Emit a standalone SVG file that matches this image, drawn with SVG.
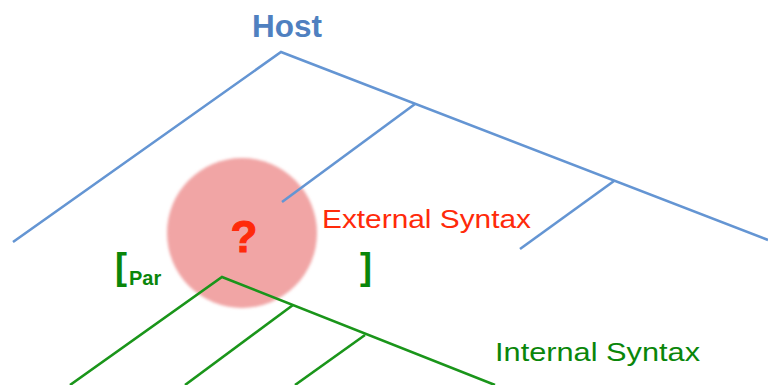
<svg xmlns="http://www.w3.org/2000/svg" width="768" height="385" viewBox="0 0 768 385">
  <defs>
    <filter id="soft" x="-10%" y="-10%" width="120%" height="120%">
      <feGaussianBlur stdDeviation="1.5"/>
    </filter>
  </defs>
  <style>
    .host { fill: none; stroke: #6495d3; stroke-width: 2.6; }
    .inner { fill: none; stroke: #1a951a; stroke-width: 2.6; }
    .lbl { font-family: "Liberation Sans", "Open Sans", sans-serif; }
  </style>
  <rect width="768" height="385" fill="#ffffff"/>

  <!-- problem zone -->
  <g id="unknown">
    <circle cx="242" cy="233" r="75" fill="#f1a5a5" filter="url(#soft)"/>
    <text class="lbl" x="244" y="252" font-size="44" font-weight="bold" fill="#ff2a0a" text-anchor="middle" stroke="#ff2a0a" stroke-width="1">?</text>
  </g>

  <g id="connectors">
    <!-- host tree -->
    <polyline class="host" points="13,242 281,52 768,240"/>
    <line class="host" x1="415" y1="104" x2="282" y2="202"/>
    <line class="host" x1="614" y1="181" x2="520" y2="249"/>
    <!-- internal tree -->
    <polyline class="inner" points="70,385 222,277 495,385"/>
    <line class="inner" x1="293" y1="305" x2="185" y2="385"/>
    <line class="inner" x1="365" y1="335" x2="295" y2="385"/>
  </g>

  <g id="host">
    <text class="lbl" x="287" y="37" font-size="31" font-weight="bold" fill="#4f80c0" text-anchor="middle" textLength="70" lengthAdjust="spacingAndGlyphs">Host</text>
  </g>
  <g id="external">
    <text class="lbl" x="322" y="228" font-size="26" fill="#ff2a0a" textLength="209" lengthAdjust="spacingAndGlyphs">External Syntax</text>
  </g>
  <g id="internal">
    <text class="lbl" x="495" y="361" font-size="26" fill="#0a860a" textLength="205" lengthAdjust="spacingAndGlyphs">Internal Syntax</text>
  </g>
  <g id="bracket">
    <text class="lbl" x="115" y="279" font-size="36" font-weight="bold" fill="#0a860a">[</text>
    <text class="lbl" x="129" y="285" font-size="20" font-weight="bold" fill="#0a860a">Par</text>
    <text class="lbl" x="360" y="279" font-size="36" font-weight="bold" fill="#0a860a">]</text>
  </g>
</svg>
